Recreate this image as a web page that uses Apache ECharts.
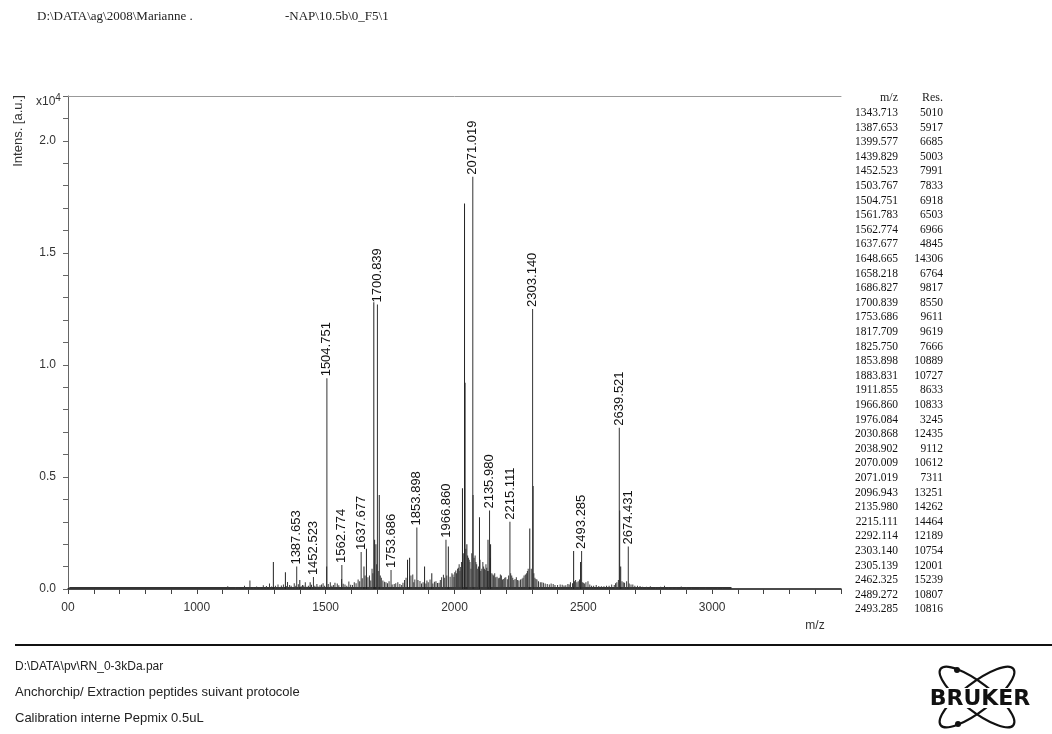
<!DOCTYPE html>
<html><head><meta charset="utf-8">
<script src="https://cdn.jsdelivr.net/npm/echarts@6/dist/echarts.min.js"></script>
<style>html,body{margin:0;padding:0;background:#fff}#c{width:1052px;height:734px}</style>
</head><body><div id="c"></div>
<script>
// ---------- data ----------
const headerLeft = 'D:\\DATA\\ag\\2008\\Marianne .';
const headerRight = '-NAP\\10.5b\\0_F5\\1';
const footerLines = ['D:\\DATA\\pv\\RN_0-3kDa.par', 'Anchorchip/ Extraction peptides suivant protocole', 'Calibration interne Pepmix 0.5uL'];
const yAxisName = 'Intens. [a.u.]';
const xAxisName = 'm/z';

// labelled peaks (m/z, intensity a.u.)
const labeledMz  = [1387.653, 1452.523, 1504.751, 1562.774, 1637.677, 1700.839, 1753.686, 1853.898, 1966.860, 2071.019, 2135.980, 2215.111, 2303.140, 2493.285, 2639.521, 2674.431];
const labeledInt = [1000, 530, 9400, 1070, 1650, 12700, 850, 2750, 2200, 18400, 3500, 3000, 12500, 1700, 7200, 1900];

// other visible peaks (m/z, intensity a.u.)
const peakMz  = [1297, 1343.713, 1399.577, 1439.829, 1503.767, 1561.783, 1648.665, 1658.218, 1686.827, 1690, 1695, 1708, 1817.709, 1825.750, 1883.831, 1911.855, 1976.084, 2030.868, 2038.902, 2041, 2048, 2072, 2096.943, 2130, 2140, 2292.114, 2305.139, 2462.325, 2489.272, 2641, 2645];
const peakInt = [1200, 750, 400, 300, 1000, 450, 1000, 1800, 12800, 2200, 2000, 4200, 1300, 1400, 1000, 700, 1900, 4500, 17200, 9200, 2000, 4200, 3200, 2200, 2000, 2700, 4600, 1700, 1200, 3500, 1000];

// small background peaks (m/z, intensity a.u.)
const noiseMz  = [1120,1150,1160,1185,1195,1206,1220,1232,1245,1258,1270,1282,1290,1305,1315,1322,1328,1336,1347,1352,1360,1366,1372,1378,1384,1394,1405,1410,1415,1421,1427,1433,1445,1458,1466,1470,1478,1484,1490,1496,1510,1518,1524,1530,1536,1545,1551,1568,1575,1582,1590,1597,1604,1611,1618,1626,1632,1642,1653,1664,1670,1675,1680,1683,1698,1704,1712,1716,1722,1728,1734,1740,1746,1758,1766,1772,1780,1788,1795,1800,1806,1812,1831,1838,1842,1846,1858,1866,1872,1878,1889,1893,1898,1905,1916,1922,1928,1934,1940,1945,1950,1957,1962,1970,1983,1990,1994,1998,2001,2005,2008,2012,2015,2018,2021,2024,2027,2034,2044,2051,2054,2057,2060,2064,2067,2076,2080,2083,2086,2090,2093,2099,2102,2106,2110,2113,2116,2119,2122,2125,2128,2133,2138,2145,2149,2152,2156,2160,2165,2170,2174,2178,2182,2186,2191,2195,2199,2205,2210,2218,2222,2226,2230,2235,2240,2245,2250,2256,2262,2266,2270,2275,2280,2283,2286,2298,2308,2312,2316,2320,2326,2333,2339,2345,2352,2360,2368,2375,2383,2390,2400,2410,2418,2425,2432,2440,2445,2450,2458,2466,2470,2475,2480,2485,2496,2500,2505,2510,2518,2525,2532,2540,2550,2560,2570,2580,2590,2600,2610,2620,2625,2630,2636,2650,2655,2660,2668,2678,2685,2692,2700,2710,2720,2730,2745,2760,2780,2790,2800,2815,2830,2845,2860,2880,2900,2920,2950,2975,3000,3020,3040,3060];
const noiseInt = [120,90,60,150,80,380,70,110,90,170,130,240,110,150,200,90,160,200,130,310,180,140,90,260,150,210,120,180,160,300,100,140,190,140,220,110,170,200,260,150,220,300,140,180,280,240,170,230,200,150,330,190,180,300,260,420,350,480,600,520,600,380,900,700,1100,800,600,500,380,320,300,260,350,200,220,260,300,220,180,280,400,500,600,650,300,420,400,360,250,300,250,380,300,420,250,320,350,270,280,400,520,640,500,600,550,700,650,540,750,820,700,900,950,1100,800,980,1200,1600,1800,1500,1400,1300,1200,900,1600,1400,1500,1200,1100,900,1000,1300,800,900,1200,1000,900,850,1100,950,800,800,1400,700,650,600,700,520,550,480,500,650,600,420,450,500,520,440,600,700,600,500,400,450,520,400,380,420,460,500,600,650,700,800,900,900,700,500,450,420,350,300,300,280,250,220,200,250,220,180,180,200,190,160,170,220,200,300,260,350,400,300,350,420,300,280,250,300,350,200,150,150,180,130,120,120,150,150,200,180,260,300,400,350,300,280,350,250,200,200,150,150,130,100,100,120,90,80,100,140,80,70,70,110,90,60,60,80,60,50,40];

// baseline of the trace
const baseMz  = [505, 3075];
const baseInt = [40, 40];

// peak table
const tableMz  = ['1343.713','1387.653','1399.577','1439.829','1452.523','1503.767','1504.751','1561.783','1562.774','1637.677','1648.665','1658.218','1686.827','1700.839','1753.686','1817.709','1825.750','1853.898','1883.831','1911.855','1966.860','1976.084','2030.868','2038.902','2070.009','2071.019','2096.943','2135.980','2215.111','2292.114','2303.140','2305.139','2462.325','2489.272','2493.285'];
const tableRes = [5010,5917,6685,5003,7991,7833,6918,6503,6966,4845,14306,6764,9817,8550,9611,9619,7666,10889,10727,8633,10833,3245,12435,9112,10612,7311,13251,14262,14464,12189,10754,12001,15239,10807,10816];

// ---------- chart ----------
const pair = (a, b) => a.map((v, i) => [v, b[i]]);
const chart = echarts.init(document.getElementById('c'), null, {renderer: 'canvas'});
const sans = 'Liberation Sans, Arial, sans-serif';
const serif = 'Liberation Serif, Times New Roman, serif';

const graphics = [];
graphics.push({type: 'text', left: 37, top: 10, style: {text: headerLeft, font: '13px ' + serif, fill: '#222'}});
graphics.push({type: 'text', left: 285, top: 10, style: {text: headerRight, font: '13px ' + serif, fill: '#222'}});
graphics.push({type: 'text', x: 18, y: 131, rotation: Math.PI / 2, style: {text: yAxisName, font: '13px ' + sans, fill: '#333', align: 'center', verticalAlign: 'middle'}});
graphics.push({type: 'text', x: 36, y: 102, style: {text: '{a|x10}{b|4}', verticalAlign: 'middle', rich: {a: {font: '12px ' + sans, fill: '#333'}, b: {font: '10px ' + sans, fill: '#333', verticalAlign: 'top', padding: [0,0,7,0]}}}});
graphics.push({type: 'text', x: 815, y: 626, style: {text: xAxisName, font: '12px ' + sans, fill: '#333', align: 'center', verticalAlign: 'middle'}});
// table
graphics.push({type: 'text', x: 898, y: 98, style: {text: 'm/z', font: '12px ' + serif, fill: '#222', align: 'right', verticalAlign: 'middle'}});
graphics.push({type: 'text', x: 943, y: 98, style: {text: 'Res.', font: '12px ' + serif, fill: '#222', align: 'right', verticalAlign: 'middle'}});
tableMz.forEach((m, i) => {
  const y = 113 + i * 14.6;
  graphics.push({type: 'text', x: 898, y: y, style: {text: m, font: '11.5px ' + serif, fill: '#111', align: 'right', verticalAlign: 'middle'}});
  graphics.push({type: 'text', x: 943, y: y, style: {text: String(tableRes[i]), font: '11.5px ' + serif, fill: '#111', align: 'right', verticalAlign: 'middle'}});
});
// footer
graphics.push({type: 'line', shape: {x1: 15, y1: 645, x2: 1052, y2: 645}, style: {stroke: '#111', lineWidth: 2}});
const footerSizes = [12, 13, 13];
footerLines.forEach((t, i) => {
  graphics.push({type: 'text', x: 15, y: 667 + i * 25.5, style: {text: t, font: footerSizes[i] + 'px ' + sans, fill: '#222', verticalAlign: 'middle'}});
});
// logo
graphics.push({type: 'ellipse', shape: {cx: 977, cy: 697, rx: 46, ry: 14}, originX: 977, originY: 697, rotation: 0.66, style: {fill: 'none', stroke: '#111', lineWidth: 2.2}});
graphics.push({type: 'ellipse', shape: {cx: 977, cy: 697, rx: 46, ry: 14}, originX: 977, originY: 697, rotation: -0.66, style: {fill: 'none', stroke: '#111', lineWidth: 2.2}});
graphics.push({type: 'rect', shape: {x: 920, y: 688, width: 122, height: 20}, style: {fill: '#fff'}});
graphics.push({type: 'text', x: 980, y: 699, style: {text: 'BRUKER', font: 'bold 22px DejaVu Sans, sans-serif', fill: '#111', align: 'center', verticalAlign: 'middle'}});
graphics.push({type: 'circle', shape: {cx: 957, cy: 670, r: 3}, style: {fill: '#111'}});
graphics.push({type: 'circle', shape: {cx: 958, cy: 724, r: 3}, style: {fill: '#111'}});

const option = {
  animation: false,
  backgroundColor: '#fff',
  grid: {left: 68, right: 211, top: 96, bottom: 145, containLabel: false},
  xAxis: [{
    type: 'value', min: 500, max: 3500, interval: 500, offset: 5,
    axisLine: {show: true, lineStyle: {color: '#111', width: 1.5}},
    axisTick: {show: true, inside: false, length: 5, lineStyle: {color: '#444'}},
    minorTick: {show: true, splitNumber: 5, length: 5, lineStyle: {color: '#444'}},
    axisLabel: {margin: 8, fontFamily: sans, fontSize: 12, color: '#333', showMaxLabel: false,
      formatter: v => (v === 500 ? '00' : String(v))},
    splitLine: {show: false}
  }, {
    type: 'value', position: 'top', min: 500, max: 3500,
    axisLine: {show: true, lineStyle: {color: '#999', width: 1}},
    axisTick: {show: false}, axisLabel: {show: false}, splitLine: {show: false}
  }],
  yAxis: {
    type: 'value', min: 0, max: 22000, interval: 1000,
    axisLine: {show: true, lineStyle: {color: '#666', width: 1}},
    axisTick: {show: true, inside: false, length: 5, lineStyle: {color: '#666'}},
    axisLabel: {margin: 12, fontFamily: sans, fontSize: 12, color: '#333',
      formatter: v => (v % 5000 === 0 ? (v / 10000).toFixed(1) : '')},
    splitLine: {show: false}
  },
  graphic: graphics,
  series: [
    {type: 'line', data: pair(baseMz, baseInt), symbol: 'none', lineStyle: {color: '#333', width: 2}, z: 1, silent: true},
    {type: 'bar', data: pair(noiseMz, noiseInt), barWidth: 1, barGap: '-100%', itemStyle: {color: '#3a3a3a'}, z: 2, silent: true},
    {type: 'bar', data: pair(peakMz, peakInt), barWidth: 1, barGap: '-100%', itemStyle: {color: '#222'}, z: 3, silent: true},
    {type: 'bar', data: pair(labeledMz, labeledInt), barWidth: 1, barGap: '-100%', itemStyle: {color: '#333'}, z: 4, silent: true,
      label: {show: true, position: 'top', rotate: 90, align: 'left', verticalAlign: 'middle', distance: 2,
        fontFamily: sans, fontSize: 13, color: '#111', formatter: p => p.value[0].toFixed(3)}}
  ]
};
chart.setOption(option);
</script>
</body></html>
